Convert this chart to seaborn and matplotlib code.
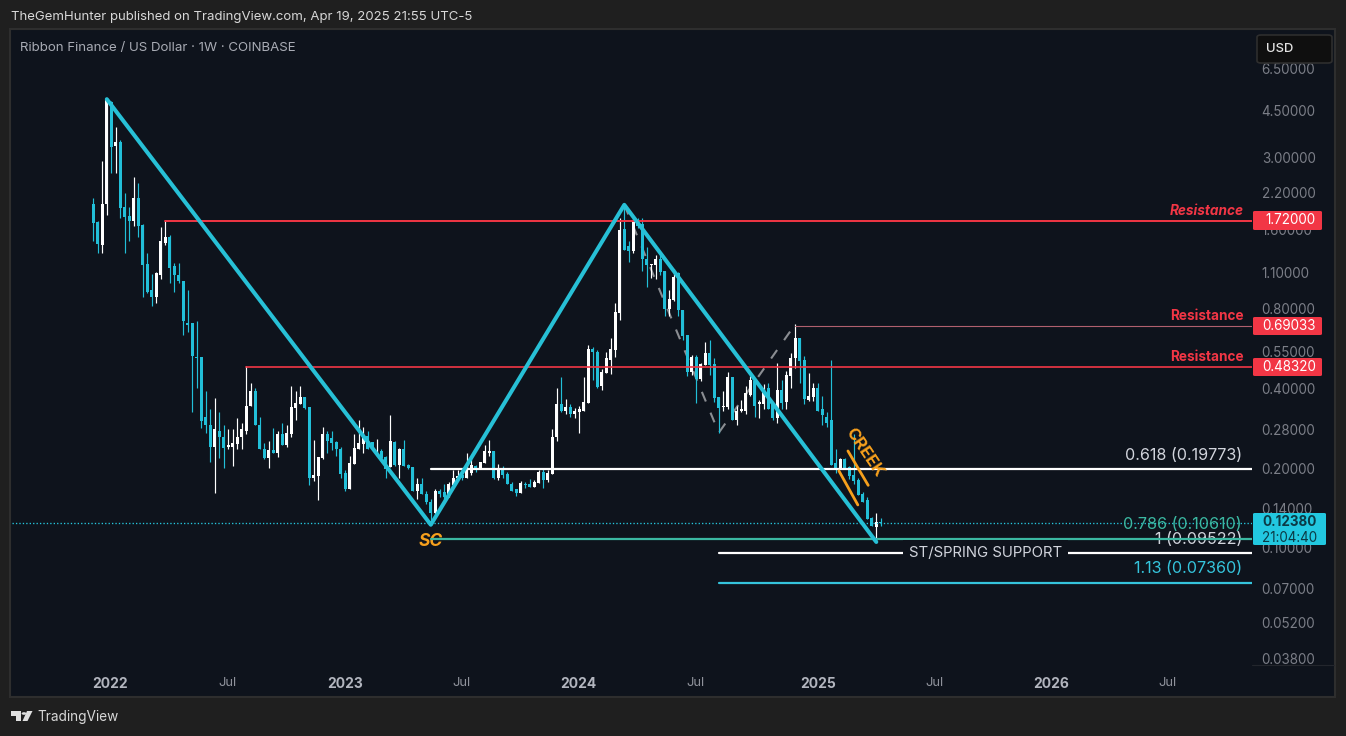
import matplotlib
matplotlib.use("Agg")
import numpy as np
import pandas as pd
import seaborn as sns
import matplotlib.pyplot as plt
from matplotlib.lines import Line2D
from matplotlib.patches import Rectangle, FancyBboxPatch, Polygon, Circle

# ---------- data (weekly candles, USD) ----------
opens = [2.00,1.71,1.39,2.00,4.85,3.30,3.42,1.95,1.79,1.72,
 2.10,1.66,1.18,0.94,0.89,1.07,1.42,1.50,1.16,1.07,
 1.02,0.705,0.705,0.525,0.525,0.313,0.292,0.241,0.275,0.262,
 0.241,0.241,0.246,0.262,0.277,0.344,0.392,0.29,0.237,0.218,
 0.233,0.227,0.27,0.244,0.27,0.338,0.348,0.372,0.34,0.184,
 0.186,0.218,0.268,0.259,0.25,0.237,0.192,0.167,0.207,0.235,
 0.246,0.265,0.25,0.225,0.231,0.22,0.202,0.25,0.206,0.235,
 0.206,0.202,0.163,0.174,0.16,0.149,0.135,0.163,0.162,0.155,
 0.172,0.184,0.189,0.184,0.192,0.204,0.199,0.209,0.227,0.231,
 0.183,0.20,0.19,0.174,0.166,0.161,0.174,0.174,0.17,0.175,
 0.194,0.18,0.19,0.262,0.348,0.33,0.34,0.319,0.325,0.33,
 0.351,0.566,0.55,0.41,0.456,0.514,0.561,0.77,1.60,1.38,
 1.32,1.71,1.68,1.24,1.17,1.17,1.24,1.115,0.80,0.866,
 1.09,0.794,0.635,0.46,0.528,0.436,0.492,0.545,0.497,0.372,
 0.34,0.34,0.44,0.305,0.33,0.33,0.379,0.428,0.348,0.348,
 0.40,0.348,0.31,0.396,0.354,0.447,0.52,0.62,0.514,0.363,
 0.372,0.40,0.333,0.313,0.305,0.209,0.199,0.217,0.202,0.189,
 0.18,0.159,0.151,0.129,0.12,0.125]
highs = [2.10,1.72,2.90,4.97,4.89,3.90,3.48,2.19,1.95,2.52,
 2.40,1.67,1.30,1.08,1.10,1.63,1.74,1.52,1.19,1.19,
 1.02,0.94,0.705,0.72,0.525,0.392,0.333,0.369,0.325,0.29,
 0.28,0.28,0.31,0.296,0.488,0.418,0.40,0.313,0.248,0.252,
 0.283,0.277,0.296,0.29,0.41,0.392,0.407,0.372,0.34,0.256,
 0.22,0.286,0.277,0.275,0.252,0.241,0.196,0.222,0.268,0.303,
 0.286,0.277,0.25,0.258,0.237,0.222,0.316,0.254,0.239,0.256,
 0.207,0.202,0.184,0.183,0.163,0.153,0.166,0.166,0.174,0.177,
 0.196,0.196,0.194,0.227,0.216,0.206,0.211,0.244,0.256,0.231,
 0.207,0.204,0.194,0.177,0.167,0.178,0.177,0.181,0.18,0.196,
 0.20,0.196,0.28,0.40,0.443,0.366,0.348,0.338,0.344,0.443,
 0.586,0.575,0.561,0.475,0.55,0.618,0.84,1.77,1.98,1.44,
 1.77,1.77,1.77,1.37,1.18,1.28,1.28,1.115,0.945,1.135,
 1.10,0.794,0.635,0.537,0.537,0.50,0.597,0.612,0.52,0.372,
 0.39,0.46,0.44,0.344,0.363,0.407,0.447,0.432,0.363,0.414,
 0.42,0.354,0.50,0.432,0.466,0.546,0.70,0.62,0.53,0.456,
 0.418,0.42,0.375,0.325,0.514,0.237,0.218,0.218,0.204,0.27,
 0.183,0.162,0.155,0.13,0.135,0.129]
lows = [1.44,1.30,1.30,1.81,2.61,2.61,1.77,1.30,1.45,1.65,
 1.50,0.89,0.92,0.82,0.84,1.04,1.40,1.00,0.93,1.00,
 0.635,0.655,0.325,0.40,0.283,0.272,0.211,0.161,0.218,0.20,
 0.235,0.204,0.235,0.235,0.27,0.344,0.29,0.235,0.217,0.20,
 0.227,0.22,0.244,0.241,0.263,0.305,0.348,0.335,0.172,0.178,
 0.152,0.216,0.227,0.233,0.222,0.184,0.163,0.167,0.207,0.235,
 0.227,0.235,0.237,0.222,0.216,0.183,0.202,0.204,0.184,0.204,
 0.199,0.163,0.153,0.159,0.146,0.122,0.134,0.156,0.152,0.155,
 0.17,0.181,0.18,0.184,0.189,0.194,0.199,0.209,0.222,0.181,
 0.18,0.184,0.174,0.163,0.157,0.161,0.168,0.17,0.17,0.175,
 0.168,0.177,0.19,0.254,0.325,0.32,0.313,0.308,0.272,0.33,
 0.351,0.432,0.40,0.396,0.456,0.452,0.525,0.728,1.34,1.20,
 1.30,1.62,1.115,0.97,1.05,1.04,1.07,0.755,0.75,0.86,
 0.755,0.612,0.447,0.451,0.351,0.425,0.492,0.451,0.354,0.272,
 0.33,0.335,0.305,0.29,0.325,0.319,0.375,0.313,0.31,0.335,
 0.335,0.305,0.296,0.335,0.333,0.40,0.48,0.42,0.348,0.36,
 0.36,0.33,0.292,0.285,0.206,0.192,0.199,0.1975,0.181,0.1735,
 0.158,0.149,0.128,0.121,0.105,0.121]
closes = [1.69,1.41,2.00,4.93,3.27,3.42,1.92,1.78,1.72,2.10,
 1.65,1.17,0.93,0.89,1.09,1.44,1.50,1.14,1.07,1.02,
 0.72,0.695,0.53,0.52,0.30,0.29,0.241,0.28,0.262,0.239,
 0.244,0.248,0.263,0.28,0.344,0.392,0.29,0.235,0.218,0.233,
 0.227,0.27,0.244,0.272,0.34,0.351,0.372,0.338,0.184,0.189,
 0.22,0.268,0.254,0.248,0.235,0.19,0.167,0.209,0.239,0.248,
 0.265,0.237,0.237,0.231,0.218,0.199,0.252,0.206,0.235,0.204,
 0.20,0.163,0.174,0.159,0.149,0.135,0.163,0.16,0.155,0.174,
 0.184,0.186,0.183,0.198,0.206,0.20,0.211,0.231,0.231,0.183,
 0.199,0.189,0.174,0.163,0.161,0.175,0.172,0.17,0.177,0.194,
 0.18,0.192,0.263,0.348,0.33,0.34,0.319,0.33,0.333,0.356,
 0.566,0.55,0.405,0.46,0.52,0.566,0.78,1.59,1.34,1.32,
 1.74,1.65,1.23,1.17,1.18,1.24,1.10,0.80,0.875,1.06,
 0.79,0.63,0.46,0.528,0.436,0.497,0.545,0.492,0.369,0.338,
 0.344,0.44,0.305,0.33,0.333,0.386,0.432,0.344,0.354,0.40,
 0.335,0.308,0.396,0.351,0.451,0.52,0.62,0.51,0.366,0.375,
 0.40,0.33,0.316,0.295,0.206,0.199,0.217,0.199,0.186,0.178,
 0.158,0.149,0.128,0.121,0.125,0.1238]

pivot_weeks = [3, 75, 118, 174]
pivot_prices = [4.97, 0.122, 1.98, 0.105]
dash_weeks = [118, 139, 156]
dash_prices = [1.98, 0.272, 0.70]
creek_upper_weeks = [167.7, 172.2]
creek_upper_prices = [0.232, 0.172]
creek_lower_weeks = [165.7, 169.9]
creek_lower_prices = [0.195, 0.145]

resist_prices = [1.72, 0.69033, 0.4832]
resist_starts = [16, 156, 34]
fib_prices = [0.19773, 0.1075, 0.09522, 0.0736]
fib_starts = [75, 75, 139, 139]
fib_text = ["0.618 (0.19773)", "0.786 (0.10610)", "1 (0.09522)", "1.13 (0.07360)"]
last_price = 0.1238

price_ticks = [6.5, 4.5, 3.0, 2.2, 1.6, 1.1, 0.8, 0.55, 0.4, 0.28, 0.2, 0.14, 0.1, 0.07, 0.052, 0.038]
time_ticks = [3.7, 29.9, 55.9, 81.9, 107.9, 133.9, 161, 187, 212.8, 238.8]
time_labels = ["2022", "Jul", "2023", "Jul", "2024", "Jul", "2025", "Jul", "2026", "Jul"]

# ---------- styling ----------
W, H = 1346, 736
OUTER = "#1f1f1f"; PANE = "#0e131c"; BORDER = "#2e2e2e"
TEAL = "#22bfd8"; WHITE = "#ffffff"; RED = "#f23645"; ORANGE = "#f7a01c"
GREEN = "#3bb8a2"; CYAN = "#35c4dc"; GREY = "#7b7e87"

sns.set_theme(style="dark", rc={"axes.grid": False})
plt.rcParams["font.family"] = ["Inter", "DejaVu Sans"]

def fx(x): return x / W
def fy(y): return 1 - y / H

fig = plt.figure(figsize=(W / 100, H / 100), dpi=100, facecolor=OUTER)
fig.patches.append(Rectangle((fx(10), fy(697)), 1325 / W, 668 / H, transform=fig.transFigure,
                             facecolor=PANE, edgecolor=BORDER, lw=1.5, zorder=-5))
fig.add_artist(Line2D([fx(1252), fx(1334)], [fy(665), fy(665)], transform=fig.transFigure,
                      color="#23262d", lw=0.8, zorder=0.5))
ax = fig.add_axes([fx(12), fy(665), 1240 / W, 634 / H], facecolor="none", zorder=1)
ax.set_yscale("log")

df = pd.DataFrame({"week": np.arange(len(closes)), "open": opens, "high": highs,
                   "low": lows, "close": closes})
df["up"] = df["close"] >= df["open"]
df["color"] = np.where(df["up"], WHITE, TEAL)
df["top"] = df[["open", "close"]].max(axis=1)
df["bottom"] = df[["open", "close"]].min(axis=1)

# dashed swing beneath the candles
sns.lineplot(x=dash_weeks, y=dash_prices, ax=ax, color="#8a8d92", linewidth=1.5,
             linestyle=(0, (5, 5.8)), sort=False, errorbar=None, zorder=1, legend=False)

ax.vlines(df["week"], df["low"], df["high"], colors=df["color"], linewidth=0.85, zorder=2)
ax.bar(df["week"], df["top"] - df["bottom"], bottom=df["bottom"], width=0.72,
       color=df["color"], linewidth=0, zorder=2.1)

xmax = (1252 - 93.3) / 4.5
xmin = (12 - 93.3) / 4.5

# current price dotted line
ax.axhline(last_price, color="#25c8e0", lw=0.95, linestyle=(0, (1, 1.6)), zorder=2.5)

# resistance lines
for p, s, lw in zip(resist_prices, resist_starts, [1.4, 0.8, 1.2]):
    c = RED if p != 0.69033 else "#b0606e"
    sns.lineplot(x=[s, xmax], y=[p, p], ax=ax, color=c, linewidth=lw, errorbar=None,
                 zorder=3, legend=False)

# fib lines
fib_colors = [WHITE, GREEN, WHITE, CYAN]
for p, s, c in zip(fib_prices, fib_starts, fib_colors):
    sns.lineplot(x=[s, xmax], y=[p, p], ax=ax, color=c, linewidth=1.6, errorbar=None,
                 zorder=3, legend=False)

# wave lines
sns.lineplot(x=pivot_weeks, y=pivot_prices, ax=ax, color="#27c0d6", linewidth=2.9, sort=False,
             errorbar=None, zorder=4, legend=False)
for wk, pr in [(creek_upper_weeks, creek_upper_prices), (creek_lower_weeks, creek_lower_prices)]:
    sns.lineplot(x=wk, y=pr, ax=ax, color=ORANGE, linewidth=2.0, sort=False, errorbar=None,
                 zorder=4.5, legend=False)

ax.set_xlim(xmin, xmax)
ax.set_ylim(0.03596, 9.0)
ax.set_xlabel(""); ax.set_ylabel("")
for s in ax.spines.values():
    s.set_visible(False)

ax.yaxis.tick_right()
ax.set_yticks(price_ticks)
ax.set_yticklabels([f"{t:.5f}" for t in price_ticks])
ax.minorticks_off()
ax.tick_params(axis="y", length=0, pad=7, labelsize=9.7, labelcolor=GREY)
ax.set_xticks(time_ticks)
ax.set_xticklabels(time_labels)
ax.tick_params(axis="x", length=0, pad=9, labelsize=9.4, labelcolor="#8f929b")
for lab, t in zip(ax.get_xticklabels(), time_labels):
    if t != "Jul":
        lab.set_fontweight("bold"); lab.set_color("#b2b5be"); lab.set_fontsize(10)

# annotations in the chart
ax.text(75, 0.1055, "SC", color=ORANGE, fontsize=12.5, fontweight="bold", style="italic",
        ha="center", va="center", zorder=2.9)
ax.text(171.3, 0.228, "CREEK", color=ORANGE, fontsize=12, fontweight="bold", rotation=-56,
        ha="center", va="center", zorder=5, rotation_mode="anchor")
label_x = (1244 - 93.3) / 4.5
ax.text(label_x, 1.88, "Resistance", color=RED, fontsize=9.8, fontweight="bold", style="italic",
        ha="right", va="center", zorder=5)
ax.text(label_x, 0.752, "Resistance", color=RED, fontsize=9.8, fontweight="bold", ha="right",
        va="center", zorder=5)
ax.text(label_x, 0.526, "Resistance", color=RED, fontsize=9.8, fontweight="bold", ha="right",
        va="center", zorder=5)

fib_x = (1242 - 93.3) / 4.5
ax.text(fib_x, 0.2225, fib_text[0], color="#d1d4dc", fontsize=11.6, ha="right", va="center", zorder=5)
ax.text(fib_x, 0.1218, fib_text[1], color=GREEN, fontsize=11.6, ha="right", va="center", zorder=3.2)
ax.text(fib_x, 0.1076, fib_text[2], color="#d1d4dc", fontsize=11.6, ha="right", va="center", zorder=2.9)
ax.text(fib_x, 0.083, fib_text[3], color=CYAN, fontsize=11.6, ha="right", va="center", zorder=5)
ax.text((985.5 - 93.3) / 4.5, fib_prices[2], "ST/SPRING SUPPORT", color="#d1d4dc", fontsize=10.75,
        ha="center", va="center", zorder=5,
        bbox=dict(facecolor=PANE, edgecolor="none", pad=4.5))

# header and footer
fig.text(fx(11), fy(17), "TheGemHunter published on TradingView.com, Apr 19, 2025 21:55 UTC-5",
         color="#d8d8d8", fontsize=9.5, va="center", ha="left")
fig.text(fx(20), fy(47.5), "Ribbon Finance / US Dollar · 1W · COINBASE", color="#a9acb5",
         fontsize=9.55, va="center", ha="left")
fig.text(fx(37), fy(717), "TradingView", color="#d8d8d8", fontsize=9.8, va="center", ha="left")

def px_patch(pts, color):
    fig.add_artist(Polygon([(fx(a), fy(b)) for a, b in pts], closed=True, transform=fig.transFigure,
                           facecolor=color, edgecolor="none", zorder=5))
px_patch([(11, 711), (21, 711), (21, 721), (16, 721), (16, 716), (11, 716)], "#e0e0e0")
px_patch([(27, 711), (32.5, 711), (27.5, 721), (22.5, 721)], "#e0e0e0")
fig.add_artist(Circle((fx(24), fy(713.5)), 2.4 / W, transform=fig.transFigure, facecolor="#e0e0e0",
                      edgecolor="none", zorder=5))

# USD button
fig.add_artist(FancyBboxPatch((fx(1257), fy(63)), 75 / W, 28 / H,
                              boxstyle="round,pad=0,rounding_size=0.003",
                              transform=fig.transFigure, facecolor="#0f0f0f", edgecolor="#2e2e2e",
                              lw=1.2, zorder=6))
fig.text(fx(1266), fy(48.5), "USD", color="#e4e4e4", fontsize=9.4, fontweight="medium",
         va="center", ha="left", zorder=7)

# price tags
def tag(y0, y1, x1, color, zorder=6):
    fig.add_artist(FancyBboxPatch((fx(1253), fy(y1)), (x1 - 1253) / W, (y1 - y0) / H,
                                  boxstyle="round,pad=0,rounding_size=0.0015",
                                  transform=fig.transFigure, facecolor=color, edgecolor="none",
                                  zorder=zorder))
for p, (a, b) in zip(resist_prices, [(211, 230), (317, 335), (358, 376)]):
    tag(a, b, 1322, RED)
    fig.text(fx(1316), fy((a + b) / 2), f"{p:.5f}", color="#ffffff", fontsize=9.7, ha="right",
             va="center", zorder=7)
tag(513, 545, 1326, "#22c8e0")
fig.text(fx(1317), fy(522.5), f"{last_price:.5f}", color="#0b3a45", fontsize=9.7, fontweight="bold",
         ha="right", va="center", zorder=7)
fig.text(fx(1317), fy(537.5), "21:04:40", color="#0b3a45", fontsize=9.7, ha="right", va="center", zorder=7)

fig.savefig("out.png", dpi=100, facecolor=OUTER)
